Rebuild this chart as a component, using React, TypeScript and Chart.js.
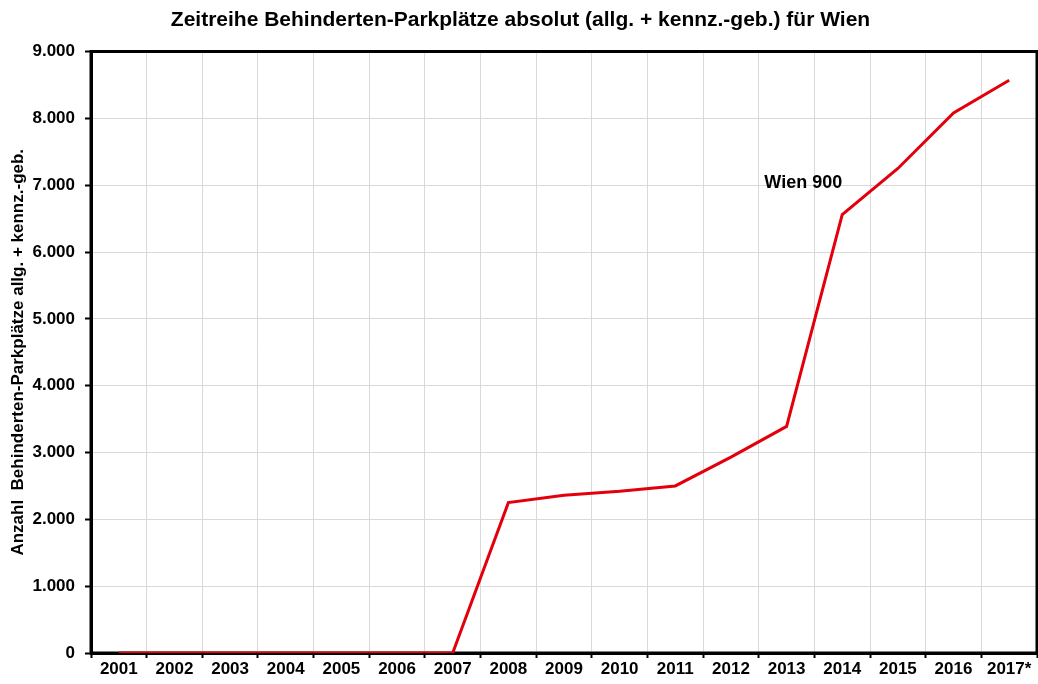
import React, { useEffect, useRef } from "react";
import { Chart, registerables } from "chart.js";

Chart.register(...registerables);

const years = ["2001", "2002", "2003", "2004", "2005", "2006", "2007", "2008", "2009", "2010", "2011", "2012", "2013", "2014", "2015", "2016", "2017*"];
const wien900 = [0, 0, 0, 0, 0, 0, 0, 2250, 2360, 2420, 2500, 2930, 3390, 6560, 7250, 8080, 8570];
const seriesLabel = "Wien 900";
const titleText = "Zeitreihe Behinderten-Parkplätze absolut (allg. + kennz.-geb.) für Wien";
const yTitle = "Anzahl  Behinderten-Parkplätze allg. + kennz.-geb.";
const labelAnchorIndex = 11.6;
const labelAnchorValue = 7030;

const FONT = "Arial, 'Liberation Sans', Helvetica, sans-serif";

export default function App() {
  const ref = useRef<HTMLCanvasElement | null>(null);
  useEffect(() => {
    if (!ref.current) return;
    const frame = {
      id: "frame",
      beforeDatasetsDraw(chart: any) {
        const { ctx, chartArea: a } = chart;
        ctx.save();
        ctx.strokeStyle = "#000";
        ctx.lineWidth = 3;
        ctx.strokeRect(a.left, a.top, a.right - a.left, a.bottom - a.top);
        ctx.restore();
      },
      afterDatasetsDraw(chart: any) {
        const { ctx } = chart;
        const x = chart.scales.x.getPixelForValue(labelAnchorIndex);
        const y = chart.scales.y.getPixelForValue(labelAnchorValue);
        ctx.save();
        ctx.fillStyle = "#000";
        ctx.font = `bold 18px ${FONT}`;
        ctx.textAlign = "left";
        ctx.textBaseline = "middle";
        ctx.fillText(seriesLabel, x, y);
        ctx.restore();
      },
    };
    const chart = new Chart(ref.current, {
      type: "line",
      data: {
        labels: years,
        datasets: [
          {
            label: seriesLabel,
            data: wien900,
            borderColor: "#e3000b",
            borderWidth: 3,
            pointRadius: 0,
            tension: 0,
            fill: false,
          },
        ],
      },
      options: {
        responsive: false,
        animation: false,
        layout: { padding: { left: 4, right: 1, top: 0, bottom: 0 } },
        plugins: {
          legend: { display: false },
          tooltip: { enabled: false },
          title: {
            display: true,
            text: titleText,
            color: "#000",
            font: { family: FONT, size: 21, weight: "bold" },
            padding: { top: 8, bottom: 18.3 },
          },
        },
        scales: {
          x: {
            offset: true,
            grid: {
              offset: true,
              color: "#d9d9d9",
              lineWidth: 1,
              tickLength: 5,
              tickColor: "#000",
              tickWidth: 2,
            },
            border: { color: "#000", width: 3 },
            ticks: {
              color: "#000",
              font: { family: FONT, size: 17, weight: "bold" },
              padding: 1,
              maxRotation: 0,
              autoSkip: false,
            },
            afterFit(scale: any) {
              scale.height = 31;
            },
          },
          y: {
            min: 0,
            max: 9000,
            grid: {
              color: "#d9d9d9",
              lineWidth: 1,
              tickLength: 6,
              tickColor: "#000",
              tickWidth: 2,
            },
            border: { color: "#000", width: 3 },
            ticks: {
              stepSize: 1000,
              color: "#000",
              padding: 10,
              font: { family: FONT, size: 17, weight: "bold" },
              callback: (v: any) => Number(v).toLocaleString("de-DE"),
            },
            title: {
              display: true,
              text: yTitle,
              color: "#000",
              font: { family: FONT, size: 17, weight: "bold" },
              padding: { top: 4, bottom: 0 },
            },
            afterFit(scale: any) {
              scale.width = 87;
            },
          },
        },
      },
      plugins: [frame],
    });
    return () => chart.destroy();
  }, []);
  return (
    <div style={{ position: "fixed", left: 0, top: 0, width: 1038, height: 684, background: "#fff" }}>
      <canvas ref={ref} width={1038} height={684} style={{ display: "block" }} />
    </div>
  );
}
